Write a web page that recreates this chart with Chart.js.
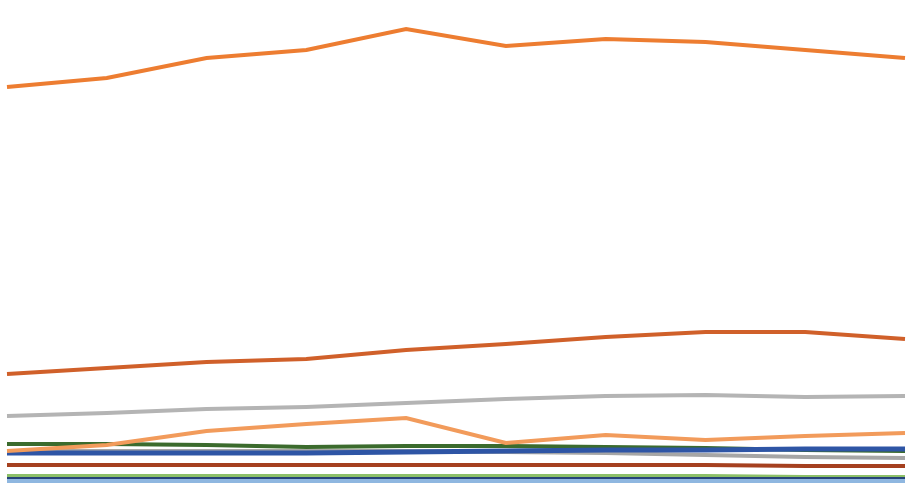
<!DOCTYPE html>
<html>
<head>
<meta charset="utf-8">
<script src="https://cdn.jsdelivr.net/npm/chart.js@4/dist/chart.umd.min.js"></script>
<style>
  html, body { margin: 0; padding: 0; background: #ffffff; }
  #wrap { width: 916px; height: 488px; position: relative; }
</style>
</head>
<body>
<div id="wrap"><canvas id="myChart"></canvas></div>
<script>
const labels = ['1', '2', '3', '4', '5', '6', '7', '8', '9', '10'];

const orangeTop   = [401, 410, 430, 438, 459, 442, 449, 446, 438, 430];
const orangeDark  = [114, 120, 126, 129, 138, 144, 151, 156, 156, 149];
const greyUpper   = [72, 75, 79, 81, 85, 89, 92, 93, 91, 92];
const orangeLight = [37, 43, 57, 64, 70, 45, 53, 48, 52, 55];
const greenDark   = [44, 44, 43, 41, 42, 42, 41, 40, 38, 37];
const greyLower   = [37, 37, 37, 37, 37, 36, 35, 33, 31, 30];
const blueMid     = [35, 35, 35, 35, 36, 37, 38, 38, 39, 39];
const brownRed    = [23, 23, 23, 23, 23, 23, 23, 23, 22, 22];
const greenLight  = [12, 12, 12, 12, 12, 12, 12, 12, 11, 11];
const navy        = [10, 10, 10, 10, 10, 10, 10, 10, 10, 10];
const blueLight   = [7, 7, 7, 7, 7, 7, 7, 7, 7, 7];

function line(data, color, width) {
  return {
    data: data,
    borderColor: color,
    backgroundColor: color,
    borderWidth: width,
    pointRadius: 0,
    tension: 0,
    fill: false,
  };
}

const ctx = document.getElementById('myChart').getContext('2d');
new Chart(ctx, {
  type: 'line',
  data: {
    labels: labels,
    datasets: [
      line(orangeTop, '#ED7D31', 4),
      line(orangeLight, '#F29B5B', 4),
      line(orangeDark, '#D0602A', 4),
      line(greyUpper, '#B4B4B4', 4),
      line(blueMid, '#2E55A5', 5),
      line(greyLower, '#A6A6A6', 4),
      line(greenDark, '#3B6B2D', 4),
      line(brownRed, '#A5401F', 4),
      line(navy, '#264478', 2),
      line(greenLight, '#8CC068', 4),
      line(blueLight, '#8FB7E0', 4),
    ],
  },
  options: {
    responsive: true,
    maintainAspectRatio: false,
    animation: false,
    layout: {
      padding: { left: 7, right: 11, top: 0, bottom: 0 },
    },
    plugins: {
      legend: { display: false },
      tooltip: { enabled: false },
    },
    scales: {
      x: { display: false },
      y: { display: false, min: 0, max: 488 },
    },
  },
});
</script>
</body>
</html>
